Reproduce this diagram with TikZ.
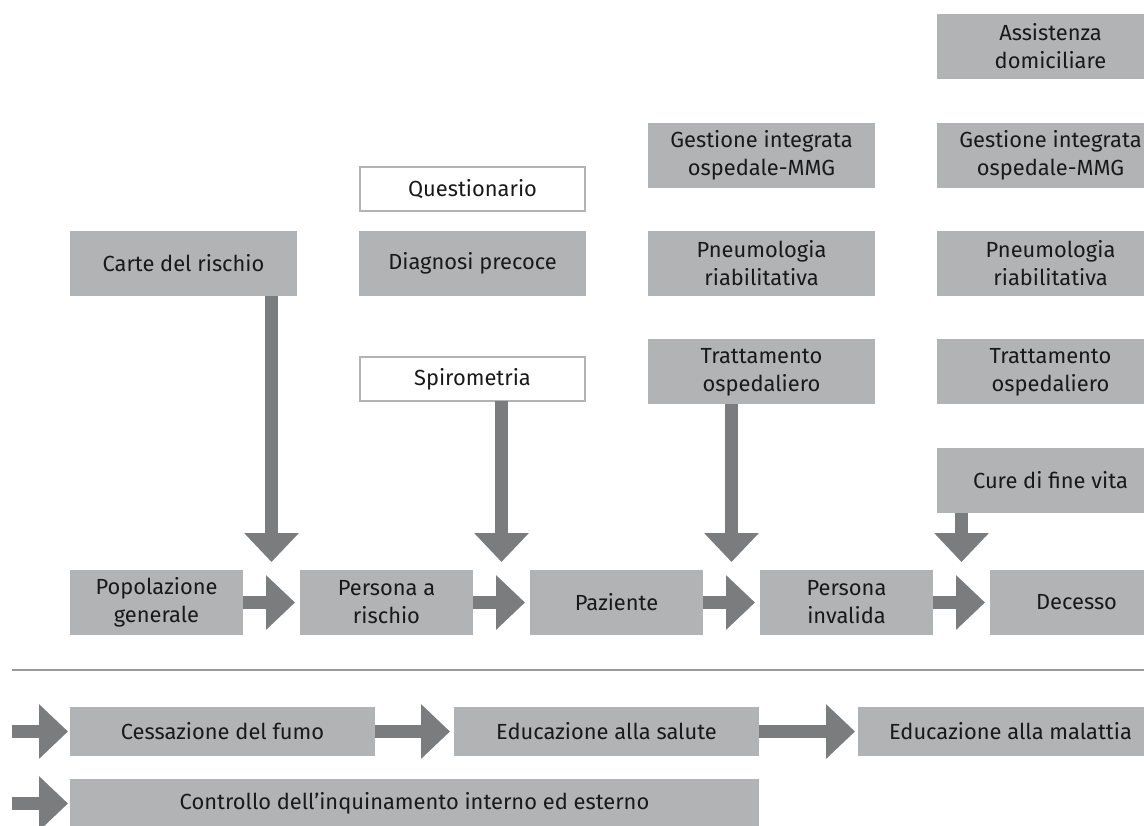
\documentclass[tikz,border=0pt]{standalone}
\usepackage{fontspec}
\setmainfont{Fira Sans}
\usetikzlibrary{positioning,calc,arrows.meta}
\definecolor{boxgray}{RGB}{178,179,181}
\definecolor{arrgray}{RGB}{123,124,126}
\definecolor{linegray}{RGB}{154,154,154}
\tikzset{every node/.style={align=center, outer sep=0pt, inner sep=0pt, text=black!90},
  font=\fontsize{16.4}{21}\selectfont,
  gbox/.style={fill=boxgray, minimum height=48.75pt},
  lowbox/.style={gbox, minimum width=129.75pt},
  topbox/.style={gbox, minimum width=170.25pt},
  wbox/.style={fill=white, draw=boxgray, line width=1.5pt, minimum width=169pt, minimum height=33pt},
  botbox/.style={fill=boxgray, minimum height=36.75pt, minimum width=228.75pt},
  fat/.style={draw=arrgray, line width=9.75pt, -{Triangle[width=39.75pt, length=21.75pt]}}}

\begin{document}
\begin{tikzpicture}[x=0.75pt, y=-0.75pt]
  \useasboundingbox (0,0) rectangle (1144,825);
  \clip (0,0) rectangle (1144,825);

  % main row
  \node [lowbox] (pop) at (156.5,602.5) {Popolazione\\generale};
  \node [lowbox, right=42.75pt of pop] (per) {Persona a\\rischio};
  \node [lowbox, right=42.75pt of per] (paz) {Paziente};
  \node [lowbox, right=42.75pt of paz] (inv) {Persona\\invalida};
  \node [lowbox, right=42.75pt of inv] (dec) {Decesso};

  % interventions above
  \node [topbox] (carte) at (183.5,263.5) {Carte del rischio};
  \node [topbox, right=46.5pt of carte] (diag) {Diagnosi precoce};
  \node [topbox, right=46.5pt of diag] (pneu4) {Pneumologia\\riabilitativa};
  \node [topbox, right=46.5pt of pneu4] (pneu5) {Pneumologia\\riabilitativa};
  \node [wbox, above=15pt of diag] (quest) {Questionario};
  \node [wbox, below=45.75pt of diag] (spiro) {Spirometria};
  \node [topbox, above=32.6pt of pneu4] (ges4) {Gestione integrata\\ospedale-MMG};
  \node [topbox, below=32.6pt of pneu4] (tratt4) {Trattamento\\ospedaliero};
  \node [topbox, above=32.6pt of pneu5] (ges5) {Gestione integrata\\ospedale-MMG};
  \node [topbox, above=32.6pt of ges5] (assist) {Assistenza\\domiciliare};
  \node [topbox, below=32.6pt of pneu5] (tratt5) {Trattamento\\ospedaliero};
  \node [topbox, below=32.6pt of tratt5] (cure) {Cure di fine vita};

  \path[->] (pop) edge[fat] ([xshift=-3.75pt]per.west)
    (per) edge[fat] ([xshift=-3.75pt]paz.west)
    (paz) edge[fat] ([xshift=-3.75pt]inv.west)
    (inv) edge[fat] ([xshift=-3.75pt]dec.west);

  \coordinate (g1) at ($(pop.east)!.5!(per.west)$);
  \coordinate (g2) at ($(per.east)!.5!(paz.west)$);
  \coordinate (g3) at ($(paz.east)!.5!(inv.west)$);
  \coordinate (g4) at ($(inv.east)!.5!(dec.west)$);
  \draw[fat] (carte.south -| g1) -- ([yshift=6pt]g1 |- per.north);
  \draw[fat] (spiro.south -| g2) -- ([yshift=6pt]g2 |- paz.north);
  \draw[fat] (tratt4.south -| g3) -- ([yshift=6pt]g3 |- inv.north);
  \draw[fat] (cure.south -| g4) -- ([yshift=6pt]g4 |- dec.north);

  % separator
  \coordinate (la) at (12,670);
  \coordinate (lb) at (1144,670);
  \draw[linegray, line width=2pt] (la) -- (lb);

  % lower interventions
  \node [botbox, anchor=north west] (cess) at (70,707) {Cessazione del fumo};
  \node [botbox, right=59.25pt of cess] (sal) {Educazione alla salute};
  \node [botbox, right=74.25pt of sal] (mal) {Educazione alla malattia};
  \node [botbox, anchor=north west, minimum width=516.75pt] (ctrl) at (70,779) {Controllo dell’inquinamento interno ed esterno};

  \coordinate (s1) at (12,731.5);
  \coordinate (s2) at (12,803.5);
  \draw[fat] (s1) -- ([xshift=-1.5pt]cess.west);
  \draw[fat] (s2) -- ([xshift=-1.5pt]ctrl.west);
  \draw[fat] (cess) -- ([xshift=-3pt]sal.west);
  \draw[fat] (sal) -- ([xshift=-2.25pt]mal.west);
\end{tikzpicture}
\end{document}
